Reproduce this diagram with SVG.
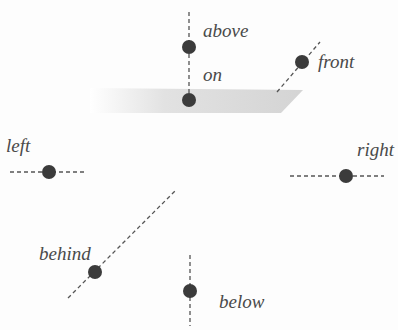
<svg xmlns="http://www.w3.org/2000/svg" width="398" height="330" viewBox="0 0 398 330">
<style>
.lbl{font-family:"Liberation Serif","Times New Roman",serif;font-style:italic;font-size:19px;fill:#4a4a4a}
.d{stroke:#555;stroke-width:1.3;stroke-dasharray:4,3;fill:none}
.dot{fill:#3b3b3b}
</style>
<defs>
<linearGradient id="pg" x1="0" y1="0" x2="1" y2="0">
<stop offset="0" stop-color="#ffffff"/>
<stop offset="0.35" stop-color="#e2e2e2"/>
<stop offset="1" stop-color="#d4d4d4"/>
</linearGradient>
</defs>
<rect width="398" height="330" fill="#fdfdfd"/>
<g id="plane"><polygon points="90,88 303,90 281,113 90,113" fill="url(#pg)"/></g>
<g id="connectors">
<line class="d" x1="189" y1="12" x2="189" y2="100"/>
<line class="d" x1="277" y1="92" x2="320" y2="42"/>
<line class="d" x1="10" y1="172" x2="85" y2="172"/>
<line class="d" x1="290" y1="176" x2="384" y2="176"/>
<line class="d" x1="68" y1="298" x2="176" y2="190"/>
<line class="d" x1="190" y1="255" x2="190" y2="326"/>
</g>
<g id="above"><circle class="dot" cx="189" cy="47" r="7"/><text class="lbl" x="203" y="37">above</text></g>
<g id="on"><circle class="dot" cx="189" cy="100" r="7"/><text class="lbl" x="203" y="81">on</text></g>
<g id="front"><circle class="dot" cx="302" cy="62" r="7"/><text class="lbl" x="318" y="68">front</text></g>
<g id="left"><circle class="dot" cx="49" cy="172" r="7"/><text class="lbl" x="6" y="152">left</text></g>
<g id="right"><circle class="dot" cx="346" cy="176" r="7"/><text class="lbl" x="357" y="156">right</text></g>
<g id="behind"><circle class="dot" cx="95" cy="272" r="7"/><text class="lbl" x="39" y="260">behind</text></g>
<g id="below"><circle class="dot" cx="190" cy="291" r="7"/><text class="lbl" x="219" y="308">below</text></g>
</svg>
